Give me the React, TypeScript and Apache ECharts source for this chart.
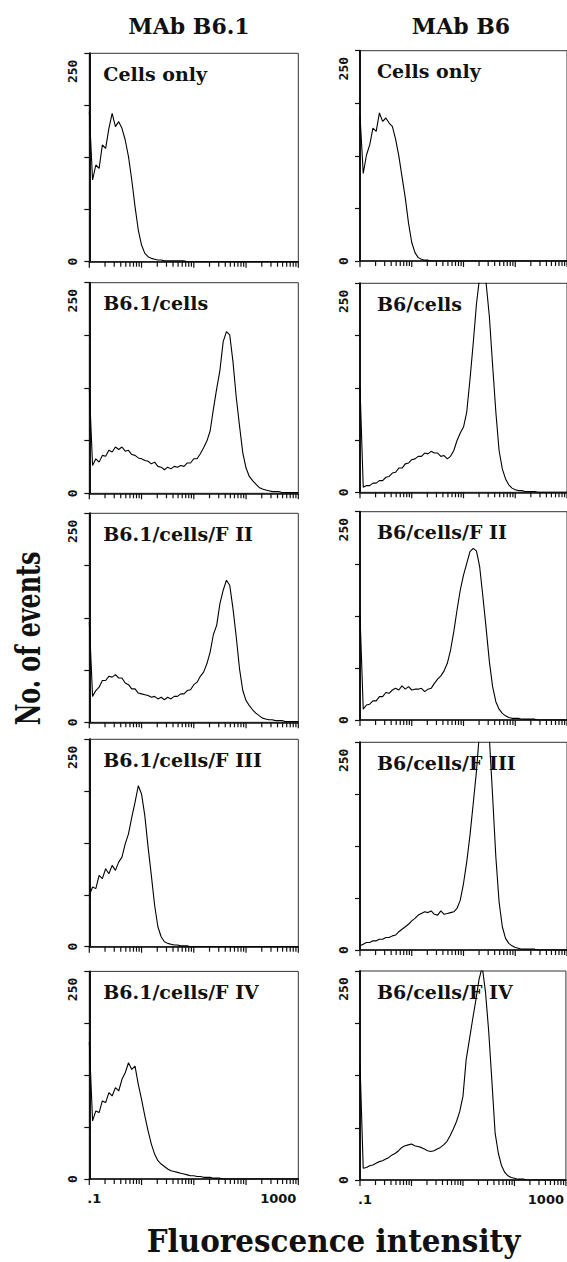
import React, { useEffect, useRef } from 'react';
import * as echarts from 'echarts';

// ---------- texts ----------
const COLUMN_TITLES = ['MAb B6.1', 'MAb B6'];
const LEFT_LABELS = ['Cells only', 'B6.1/cells', 'B6.1/cells/F II', 'B6.1/cells/F III', 'B6.1/cells/F IV'];
const RIGHT_LABELS = ['Cells only', 'B6/cells', 'B6/cells/F II', 'B6/cells/F III', 'B6/cells/F IV'];
const Y_TITLE = 'No. of events';
const X_TITLE = 'Fluorescence intensity';
const Y_TICK_LABELS = ['0', '250'];
const X_TICK_LABELS = ['.1', '1000'];

// ---------- axes ----------
const X_MIN = 0.1;
const X_MAX = 1000;
const Y_MIN = 0;
const Y_MAX = 250;
const Y_INTERVAL = 62.5;
const CHANNELS_PER_DECADE = 16;
const DECADES = [0.1, 1, 10, 100];
const TICK_MULTIPLIERS = [1, 2, 3, 4, 5, 6, 7, 8, 9];

// ---------- histogram counts (one value per channel, 16 channels per decade) ----------
const L1 = [180, 98, 116, 112, 140, 136, 160, 178, 162, 168, 160, 146, 126, 98, 66, 38, 20, 10, 6, 4, 3, 2, 2, 1, 1, 1, 1, 1, 1, 1,
  0, 0, 0, 0, 0, 0, 0, 0, 0, 0, 0, 0, 0, 0, 0, 0, 0, 0, 0, 0, 0, 0, 0, 0, 0, 0, 0, 0, 0, 0, 0, 0, 0, 0, 0];
const L2 = [125, 33, 41, 37, 45, 44, 51, 49, 55, 52, 55, 50, 51, 46, 45, 42, 41, 39, 38, 35, 37, 32, 31, 28, 31, 29, 32, 31, 33, 32,
  36, 36, 41, 41, 47, 54, 62, 74, 100, 124, 146, 180, 192, 188, 156, 114, 80, 48, 30, 20, 15, 11, 7, 5, 4, 3, 2, 2, 2, 1, 1, 1, 1, 1, 1];
const L3 = [120, 31, 38, 42, 50, 50, 55, 54, 57, 53, 53, 47, 45, 40, 40, 35, 34, 33, 32, 30, 31, 28, 30, 27, 30, 28, 31, 31, 34, 34,
  38, 39, 45, 48, 55, 60, 70, 84, 105, 116, 142, 158, 170, 164, 136, 102, 64, 38, 26, 20, 15, 11, 8, 5, 4, 3, 3, 2, 2, 2, 1, 1, 1, 1, 1];
const L4 = [62, 72, 70, 86, 82, 94, 88, 98, 92, 102, 108, 124, 136, 156, 174, 194, 184, 158, 120, 86, 50, 24, 12, 6, 4, 3, 2, 2, 1, 1,
  1, 0, 0, 0, 0, 0, 0, 0, 0, 0, 0, 0, 0, 0, 0, 0, 0, 0, 0, 0, 0, 0, 0, 0, 0, 0, 0, 0, 0, 0, 0, 0, 0, 0, 0];
const L5 = [165, 70, 82, 80, 94, 92, 104, 100, 110, 106, 120, 128, 140, 132, 136, 114, 96, 76, 58, 42, 30, 22, 18, 15, 12, 10, 9, 8, 7, 6,
  5, 4, 4, 3, 3, 2, 2, 2, 1, 1, 1, 0, 0, 0, 0, 0, 0, 0, 0, 0, 0, 0, 0, 0, 0, 0, 0, 0, 0, 0, 0, 0, 0, 0, 0];
const R1 = [173, 104, 126, 138, 158, 154, 176, 166, 170, 164, 160, 145, 125, 100, 75, 45, 22, 10, 4, 2, 1, 1,
  0, 0, 0, 0, 0, 0, 0, 0, 0, 0, 0, 0, 0, 0, 0, 0, 0, 0, 0, 0, 0, 0, 0, 0, 0, 0, 0, 0, 0, 0, 0, 0, 0, 0, 0, 0, 0, 0, 0, 0, 0, 0, 0];
const R2 = [126, 6, 8, 8, 11, 11, 14, 14, 18, 19, 23, 24, 29, 29, 34, 35, 39, 40, 43, 43, 47, 46, 49, 47, 47, 43, 44, 40, 43, 50,
  62, 71, 78, 96, 135, 178, 225, 258, 272, 250, 210, 152, 96, 50, 28, 16, 9, 5, 3, 2, 2, 1, 1, 1, 1, 0, 0, 0, 0, 0, 0, 0, 0, 0, 0];
const R3 = [126, 13, 18, 19, 23, 23, 28, 28, 33, 32, 36, 38, 36, 41, 37, 40, 36, 37, 37, 38, 34, 37, 38, 44, 49, 53, 59, 68, 84, 106,
  132, 156, 174, 188, 202, 206, 203, 184, 148, 110, 70, 40, 22, 13, 8, 5, 3, 2, 2, 2, 1, 1, 1, 1, 1, 0, 0, 0, 0, 0, 0, 0, 0, 0, 0];
const R4 = [5, 7, 9, 9, 11, 11, 13, 13, 15, 15, 17, 18, 22, 25, 28, 31, 35, 38, 42, 44, 46, 45, 47, 43, 42, 47, 43, 44, 45, 46,
  50, 60, 80, 106, 138, 176, 215, 265, 300, 290, 255, 185, 112, 58, 28, 14, 8, 5, 3, 2, 1, 1, 1, 1, 1, 0, 0, 0, 0, 0, 0, 0, 0, 0, 0];
const R5 = [140, 14, 15, 17, 18, 20, 22, 23, 25, 27, 30, 32, 35, 39, 41, 42, 43, 41, 40, 39, 37, 35, 34, 35, 37, 39, 42, 46, 53, 61,
  70, 82, 100, 144, 168, 192, 215, 240, 255, 225, 178, 118, 56, 32, 17, 9, 5, 3, 2, 1, 1, 1, 0, 0, 0, 0, 0, 0, 0, 0, 0, 0, 0, 0, 0];

const LEFT_SERIES = [L1, L2, L3, L4, L5];
const RIGHT_SERIES = [R1, R2, R3, R4, R5];

// ---------- layout (pixels) ----------
const GRID_WIDTH = 209;
const LEFT_X = 89.3;
const RIGHT_X = 360;
const LEFT_TOPS = [53.3, 282.7, 513.3, 739.3, 971.4];
const LEFT_BOTTOMS = [261.7, 493.3, 722.3, 946.7, 1179];
const RIGHT_TOPS = [50.7, 283.3, 511.7, 742.3, 971];
const RIGHT_BOTTOMS = [261, 492.3, 720, 950, 1180];

const SERIF = '"DejaVu Serif", serif';
const INK = '#111';

function channelValue(i: number) {
  return X_MIN * Math.pow(10, i / CHANNELS_PER_DECADE);
}

function buildTicks() {
  const out: number[][] = [];
  DECADES.forEach((d) => TICK_MULTIPLIERS.forEach((m) => out.push([d * m, 0, m === 1 ? 1 : 0])));
  out.push([X_MAX, 0, 1]);
  return out;
}

function near(a: number, b: number) {
  return Math.abs(a - b) < 1e-6 * Math.max(1, Math.abs(b));
}

export default function App() {
  const ref = useRef<HTMLDivElement>(null);
  useEffect(() => {
    if (!ref.current) return;
    const chart = echarts.init(ref.current, undefined, { renderer: 'svg' });
    const grids: any[] = [];
    const xAxes: any[] = [];
    const yAxes: any[] = [];
    const series: any[] = [];
    const graphics: any[] = [];
    const ticks = buildTicks();

    const panels: { x: number; top: number; bottom: number; data: number[]; label: string; bottomRow: boolean; labelDx: number }[] = [];
    for (let r = 0; r < 5; r++) {
      panels.push({ x: LEFT_X, top: LEFT_TOPS[r], bottom: LEFT_BOTTOMS[r], data: LEFT_SERIES[r], label: LEFT_LABELS[r], bottomRow: r === 4, labelDx: 14 });
      panels.push({ x: RIGHT_X, top: RIGHT_TOPS[r], bottom: RIGHT_BOTTOMS[r], data: RIGHT_SERIES[r], label: RIGHT_LABELS[r], bottomRow: r === 4, labelDx: 17 });
    }

    const tickFont = { fontFamily: '"DejaVu Sans", sans-serif', fontWeight: 'bold', fontSize: 13, color: INK };

    panels.forEach((p, k) => {
      grids.push({ left: p.x, top: p.top, width: GRID_WIDTH, height: p.bottom - p.top, show: true, borderColor: '#333', borderWidth: 1, containLabel: false });
      xAxes.push({
        type: 'log', logBase: 10, min: X_MIN, max: X_MAX, gridIndex: k,
        axisLine: { show: true, lineStyle: { color: INK, width: 1.6 } },
        axisTick: { show: false },
        splitLine: { show: false },
        axisLabel: {
          show: p.bottomRow,
          margin: 13,
          formatter: (v: number) => (near(v, X_MIN) ? '{a|' + X_TICK_LABELS[0] + '}' : near(v, X_MAX) ? '{b|' + X_TICK_LABELS[1] + '}' : ''),
          rich: {
            a: { ...tickFont, padding: [0, 0, 0, 10] },
            b: { ...tickFont, padding: [0, 40, 0, 0] },
          },
        },
      });
      yAxes.push({
        type: 'value', min: Y_MIN, max: Y_MAX, interval: Y_INTERVAL, gridIndex: k,
        axisLine: { show: true, lineStyle: { color: INK, width: 2 } },
        axisTick: { show: true, inside: false, length: 5, lineStyle: { color: INK, width: 1.2 } },
        splitLine: { show: false },
        axisLabel: {
          rotate: 90,
          margin: 10,
          formatter: (v: number) => (v === Y_MIN ? '{z|' + Y_TICK_LABELS[0] + '}' : v === Y_MAX ? '{t|' + Y_TICK_LABELS[1] + '}' : ''),
          rich: {
            z: { fontFamily: '"DejaVu Sans Mono", monospace', fontWeight: 'bold', fontSize: 13, color: INK },
            t: { fontFamily: '"DejaVu Sans Mono", monospace', fontWeight: 'bold', fontSize: 13, color: INK, padding: [0, 36, 0, 0] },
          },
        },
      });
      series.push({
        type: 'line', xAxisIndex: k, yAxisIndex: k, showSymbol: false, symbol: 'none', clip: true, z: 3,
        lineStyle: { color: '#000', width: 1.1 },
        data: p.data.map((v, i) => [channelValue(i), v]),
      });
      series.push({
        type: 'custom', xAxisIndex: k, yAxisIndex: k, clip: false, z: 4,
        data: ticks,
        renderItem: (params: any, api: any) => {
          const pt = api.coord([api.value(0), 0]);
          const major = api.value(2) === 1;
          return {
            type: 'line',
            shape: { x1: pt[0], y1: pt[1], x2: pt[0], y2: pt[1] + (major ? 6 : 5) },
            style: { stroke: INK, lineWidth: 1.2 },
          };
        },
      });
      graphics.push({
        type: 'text', x: p.x + p.labelDx, y: p.top + 20.5, z: 1,
        style: { text: p.label, font: 'bold 19px ' + SERIF, fill: INK, textAlign: 'left', textVerticalAlign: 'middle' },
      });
    });

    graphics.push({ type: 'text', x: 189, y: 26.3, style: { text: COLUMN_TITLES[0], font: 'bold 22px ' + SERIF, fill: INK, textAlign: 'center', textVerticalAlign: 'middle' } });
    graphics.push({ type: 'text', x: 461, y: 25.5, style: { text: COLUMN_TITLES[1], font: 'bold 22px ' + SERIF, fill: INK, textAlign: 'center', textVerticalAlign: 'middle' } });
    graphics.push({
      type: 'text', x: 29, y: 638.5, rotation: Math.PI / 2, scaleX: 0.72, scaleY: 1,
      style: { text: Y_TITLE, font: 'bold 33px ' + SERIF, fill: INK, textAlign: 'center', textVerticalAlign: 'middle' },
    });
    graphics.push({
      type: 'text', x: 333.5, y: 1241, scaleX: 0.95, scaleY: 1,
      style: { text: X_TITLE, font: 'bold 31px ' + SERIF, fill: INK, textAlign: 'center', textVerticalAlign: 'middle' },
    });

    chart.setOption({
      animation: false,
      backgroundColor: '#fff',
      grid: grids,
      xAxis: xAxes,
      yAxis: yAxes,
      series,
      graphic: graphics,
    });
    return () => chart.dispose();
  }, []);
  return <div ref={ref} style={{ position: 'absolute', left: 0, top: 0, width: 567, height: 1262 }} />;
}
